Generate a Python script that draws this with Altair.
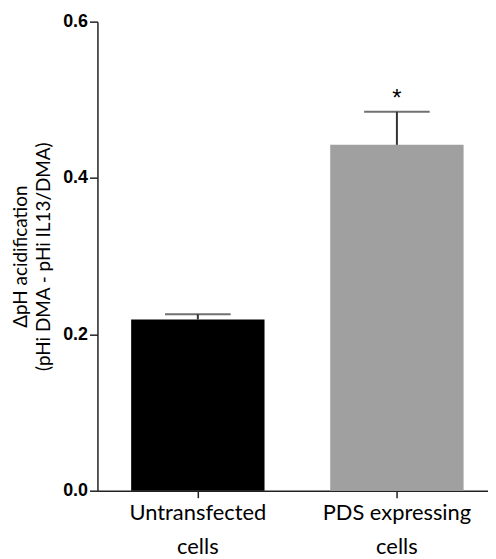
import altair as alt
import pandas as pd

categories = ["Untransfected cells", "PDS expressing cells"]
means = [0.219, 0.4424]
errors = [0.0068, 0.0423]
bar_colors = ["#000000", "#a0a0a0"]
significance = ["", "*"]
y_ticks = [0.0, 0.2, 0.4, 0.6]

df = pd.DataFrame({
    "group": categories,
    "mean": means,
    "upper": [m + e for m, e in zip(means, errors)],
    "color": bar_colors,
    "sig": significance,
})

x_enc = alt.X(
    "group:N",
    sort=categories,
    scale=alt.Scale(paddingInner=0.33, paddingOuter=0.146, align=0.58),
    axis=alt.Axis(
        title=None,
        labelAngle=0,
        labelFont="Lato",
        labelFontSize=22,
        labelColor="#000000",
        labelLineHeight=34,
        labelPadding=5,
        tickSize=7,
        tickColor="#222222",
        tickWidth=1.5,
        domainColor="#222222",
        domainWidth=1.5,
        labelExpr="[substring(datum.value, 0, lastindexof(datum.value, ' ')), substring(datum.value, lastindexof(datum.value, ' ') + 1)]",
    ),
)

y_scale = alt.Scale(domain=[0, 0.6], nice=False)

bars = alt.Chart(df).mark_bar().encode(
    x=x_enc,
    y=alt.Y(
        "mean:Q",
        scale=y_scale,
        axis=alt.Axis(
            values=y_ticks,
            format=".1f",
            grid=False,
            title=["ΔpH acidification", "(pHi DMA - pHi IL13/DMA)"],
            titleFont="Lato",
            titleFontSize=19,
            titleFontWeight="normal",
            titleColor="#000000",
            titleLineHeight=23,
            titlePadding=9,
            labelFont="Liberation Sans",
            labelFontSize=18,
            labelFontWeight="bold",
            labelColor="#000000",
            labelPadding=2,
            tickSize=8,
            tickColor="#222222",
            tickWidth=1.5,
            domainColor="#222222",
            domainWidth=1.5,
        ),
    ),
    color=alt.Color("color:N", scale=None),
)

err_line = alt.Chart(df).mark_rule(color="#333333", strokeWidth=2).encode(
    x=alt.X("group:N", sort=categories),
    y=alt.Y("mean:Q", scale=y_scale),
    y2="upper:Q",
)

err_cap = alt.Chart(df).mark_tick(color="#333333", thickness=2, size=66, orient="horizontal").encode(
    x=alt.X("group:N", sort=categories),
    y=alt.Y("upper:Q", scale=y_scale),
)

stars = alt.Chart(df).mark_text(
    font="Liberation Sans", fontSize=24, color="#000000", baseline="alphabetic", dy=-6
).encode(
    x=alt.X("group:N", sort=categories),
    y=alt.Y("upper:Q", scale=y_scale),
    text="sig:N",
)

chart = (
    alt.layer(bars, err_line, err_cap, stars)
    .properties(width=393, height=472, padding={"left": 3, "top": 3, "right": 0, "bottom": 0})
    .configure_view(stroke=None)
)

chart.save("out.html", embed_options={"renderer": "svg", "actions": False})
